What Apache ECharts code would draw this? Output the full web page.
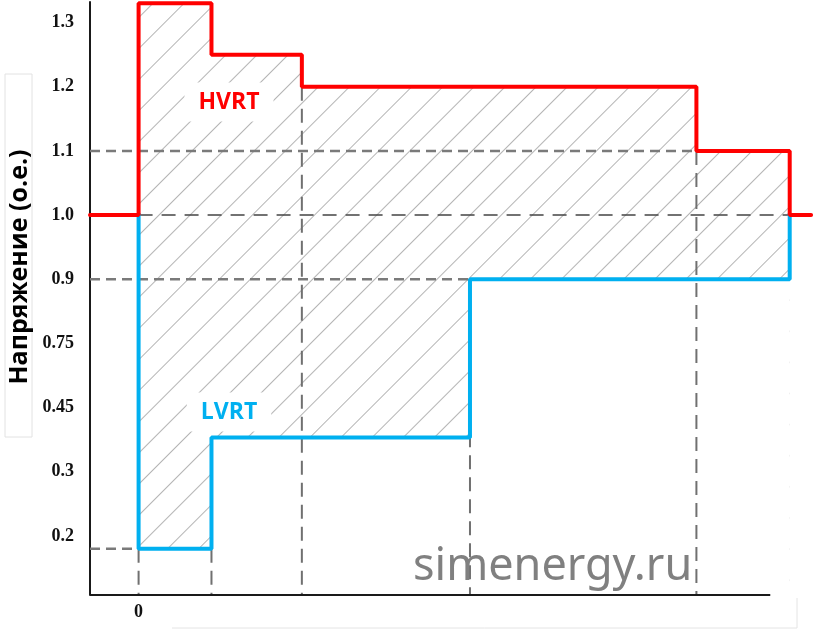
<!DOCTYPE html>
<html>
<head>
<meta charset="utf-8">
<script src="https://cdn.jsdelivr.net/npm/echarts@6/dist/echarts.min.js"></script>
<style>
html,body{margin:0;padding:0;background:#fff;}
#chart{width:815px;height:631px;}
</style>
</head>
<body>
<div id="chart"></div>
<script>
// ---- Data (voltage in p.u., time in arbitrary units, 0 = fault instant) ----
const tickValues = [0.2, 0.3, 0.45, 0.75, 0.9, 1.0, 1.1, 1.2, 1.3];
const tickLabels = ['0.2', '0.3', '0.45', '0.75', '0.9', '1.0', '1.1', '1.2', '1.3'];
const xTickValues = [0];

const hvrtTimes = [-0.5, 0, 0.75, 1.68, 5.74, 6.7, 6.92];
const hvrtVolts = [1.0, 1.33, 1.25, 1.2, 1.1, 1.0, 1.0];

const lvrtTimes = [0, 0, 0.75, 3.41, 6.7];
const lvrtVolts = [1.0, 0.18, 0.38, 0.9, 1.0];

const nominalVolt = 1.0;
const hGuideVolts = [1.1, 0.9, 0.18];
const hGuideEnds = [5.74, 3.41, 0];
const vGuideTimes = [0, 0.75, 1.68, 3.41, 5.74];
const vGuideTops = [0.18, 0.18, 1.2, 0.9, 1.1];

const xMin = -0.5, xMax = 6.95, xAxisEnd = 6.5;
const yMin = -0.92, yMax = 8.32;

// The drawing's voltage scale is schematic: tick labels are evenly spaced.
function toLevel(v) {
  const t = tickValues;
  let i = 0;
  while (i < t.length - 2 && v > t[i + 1]) i++;
  return i + (v - t[i]) / (t[i + 1] - t[i]);
}
function pts(times, volts) { return times.map((t, i) => [t, toLevel(volts[i])]); }

const hvrtData = pts(hvrtTimes, hvrtVolts);
const lvrtData = pts(lvrtTimes, lvrtVolts);
const hatchData = hvrtData.filter(p => p[0] >= 0 && p[0] <= lvrtTimes[lvrtTimes.length - 1]);

const series = [];
series.push({
  type: 'line', name: 'zone', data: hatchData, step: 'end', symbol: 'none', silent: true, z: 1,
  lineStyle: { opacity: 0 },
  itemStyle: { color: '#ffffff', decal: { symbol: 'rect', symbolSize: 1, color: '#b4b4b4', dashArrayX: [1, 0], dashArrayY: [1, 21], rotation: -Math.PI / 4 } },
  areaStyle: { color: '#ffffff', opacity: 1, origin: 'start' }
});
series.push({
  type: 'line', name: 'cover', data: lvrtData, step: 'end', symbol: 'none', silent: true, z: 2,
  lineStyle: { opacity: 0 },
  itemStyle: { color: '#ffffff' },
  areaStyle: { color: '#ffffff', opacity: 1, origin: 'start' }
});
// visible part of the time axis
series.push({
  type: 'line', data: [[xMin, yMin], [xAxisEnd, yMin]], symbol: 'none', silent: true, z: 4,
  lineStyle: { color: '#1a1a1a', width: 2 }
});
hGuideVolts.forEach((v, i) => {
  series.push({
    type: 'line', data: [[xMin, toLevel(v)], [hGuideEnds[i], toLevel(v)]], symbol: 'none', silent: true, z: 3,
    lineStyle: { color: '#7a7a7a', width: 2.5, type: [10, 6] }
  });
});
vGuideTimes.forEach((t, i) => {
  series.push({
    type: 'line', data: [[t, toLevel(vGuideTops[i])], [t, yMin]], symbol: 'none', silent: true, z: 3,
    lineStyle: { color: '#707070', width: 2, type: [14, 8] }
  });
});
series.push({
  type: 'line', data: [[0, toLevel(nominalVolt)], [lvrtTimes[lvrtTimes.length - 1], toLevel(nominalVolt)]], symbol: 'none', silent: true, z: 3,
  lineStyle: { color: '#444444', width: 1.5, type: [14, 9] }
});
series.push({
  type: 'line', name: 'LVRT', data: lvrtData, step: 'end', symbol: 'none', z: 5,
  lineStyle: { color: '#00b0f0', width: 4, cap: 'square' }
});
series.push({
  type: 'line', name: 'HVRT', data: hvrtData, step: 'end', symbol: 'none', z: 6,
  lineStyle: { color: '#ff0000', width: 4, cap: 'round' }
});

const labelFont = { fontFamily: 'Liberation Serif', fontWeight: 'bold', fontSize: 18, color: '#111' };

const chart = echarts.init(document.getElementById('chart'));
chart.setOption({
  animation: false,
  backgroundColor: '#ffffff',
  grid: { left: 90, right: 1, top: 2, bottom: 36 },
  xAxis: {
    type: 'value', min: xMin, max: xMax,
    axisLine: { show: false, onZero: false },
    axisTick: { show: false }, splitLine: { show: false },
    axisLabel: Object.assign({ customValues: xTickValues, formatter: v => String(v), margin: 8 }, labelFont)
  },
  yAxis: {
    type: 'value', min: yMin, max: yMax,
    axisLine: { show: true, onZero: false, lineStyle: { color: '#1a1a1a', width: 2 } },
    axisTick: { show: false }, splitLine: { show: false },
    axisLabel: Object.assign({ customValues: tickLabels.map((_, i) => i), formatter: v => tickLabels[Math.round(v)], margin: 16 }, labelFont)
  },
  graphic: [
    { type: 'rect', z: 10, shape: { x: 5, y: 74, width: 27, height: 363 }, style: { fill: '#ffffff', stroke: '#e2e2e2', lineWidth: 1 } },
    { type: 'text', z: 11, x: 20, y: 267, rotation: Math.PI / 2,
      style: { text: 'Напряжение (о.е.)', fontFamily: 'Open Sans', fontWeight: 'bold', fontSize: 25, fill: '#000', align: 'center', verticalAlign: 'middle' } },
    { type: 'text', z: 10, x: 229, y: 102,
      style: { text: 'HVRT', fontFamily: 'Open Sans', fontWeight: 'bold', fontSize: 23, fill: '#ff0000', align: 'center', verticalAlign: 'middle', backgroundColor: '#ffffff', padding: [8, 14] } },
    { type: 'text', z: 10, x: 229, y: 412,
      style: { text: 'LVRT', fontFamily: 'Open Sans', fontWeight: 'bold', fontSize: 23, fill: '#00b0f0', align: 'center', verticalAlign: 'middle', backgroundColor: '#ffffff', padding: [8, 14] } },
    { type: 'polyline', z: 1, shape: { points: [[172, 628], [797, 628], [797, 598]] }, style: { stroke: '#e4e4e4', lineWidth: 1, fill: null } },
    { type: 'text', z: 12, x: 413, y: 567,
      style: { text: 'simenergy.ru', fontFamily: 'Noto Sans', fontSize: 45, fill: '#808080', align: 'left', verticalAlign: 'middle' } }
  ],
  series: series
});
</script>
</body>
</html>
